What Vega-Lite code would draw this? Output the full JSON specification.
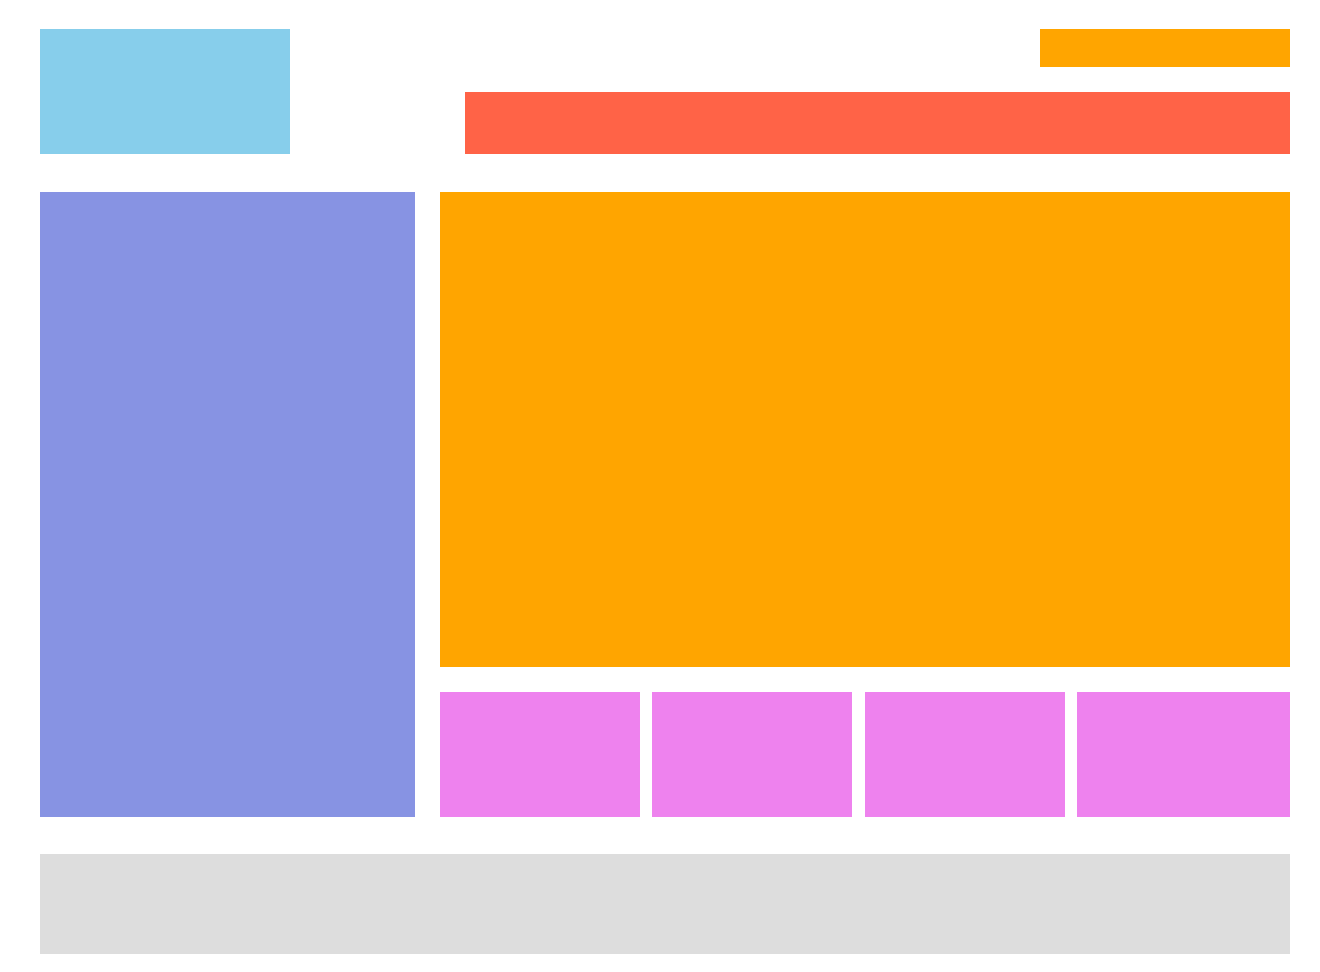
{
  "$schema": "https://vega.github.io/schema/vega-lite/v6.json",
  "width": 1320,
  "height": 972,
  "autosize": {"type": "fit", "contains": "padding"},
  "padding": 0,
  "background": "white",
  "config": {"view": {"stroke": null}},
  "data": {"values": [
    {"id": "logo", "x": 40, "x2": 290, "y": 29, "y2": 154},
    {"id": "button", "x": 1040, "x2": 1290, "y": 29, "y2": 67},
    {"id": "nav", "x": 465, "x2": 1290, "y": 92, "y2": 154},
    {"id": "sidebar", "x": 40, "x2": 415, "y": 192, "y2": 817},
    {"id": "main", "x": 440, "x2": 1290, "y": 192, "y2": 667},
    {"id": "card", "x": 440, "x2": 640, "y": 692, "y2": 817},
    {"id": "card", "x": 652, "x2": 852, "y": 692, "y2": 817},
    {"id": "card", "x": 865, "x2": 1065, "y": 692, "y2": 817},
    {"id": "card", "x": 1077, "x2": 1290, "y": 692, "y2": 817},
    {"id": "footer", "x": 40, "x2": 1290, "y": 854, "y2": 954}
  ]},
  "mark": {"type": "rect"},
  "encoding": {
    "x": {"field": "x", "type": "quantitative", "scale": {"domain": [0, 1320], "nice": false, "zero": false}, "axis": null},
    "x2": {"field": "x2"},
    "y": {"field": "y", "type": "quantitative", "scale": {"domain": [0, 972], "nice": false, "zero": false, "reverse": true}, "axis": null},
    "y2": {"field": "y2"},
    "color": {"field": "id", "type": "nominal", "legend": null,
      "scale": {"domain": ["logo", "button", "nav", "sidebar", "main", "card", "footer"],
                "range": ["#87CEEB", "#FFA500", "#FF6347", "#8793E3", "#FFA500", "#EE82EE", "#DDDDDD"]}}
  }
}
